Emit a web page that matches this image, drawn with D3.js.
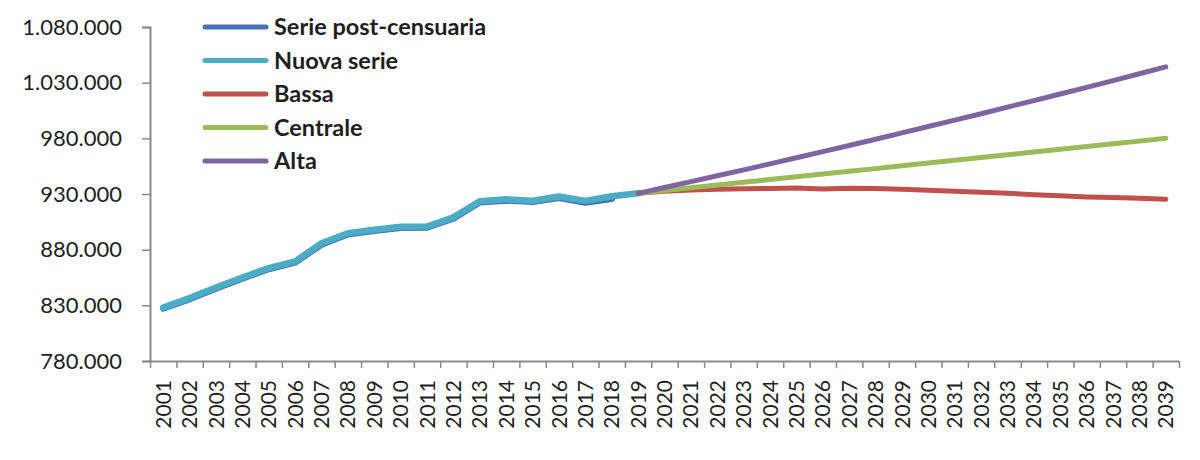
<!DOCTYPE html>
<html>
<head>
<meta charset="utf-8">
<script src="https://cdn.jsdelivr.net/npm/d3@7"></script>
<style>
  html, body { margin: 0; padding: 0; background: #ffffff; }
  svg { display: block; }
</style>
</head>
<body>
<svg id="chart" width="1200" height="460"></svg>
<script>
// ---- data ----
const years = d3.range(2001, 2040).map(String);
const yTicks = [780000, 830000, 880000, 930000, 980000, 1030000, 1080000];

const seriePostYears = years.slice(0, 18); // 2001-2018
const seriePost = [827.2, 835.6, 845.1, 854.1, 862.6, 868.6, 884.6, 893.9, 897.0, 899.6,
                   899.9, 908.0, 922.5, 924.2, 923.0, 926.6, 922.3, 925.8];

const nuovaYears = years.slice(0, 19); // 2001-2019
const nuovaSerie = [827.9, 836.5, 846.0, 855.0, 863.5, 869.5, 885.8, 894.8, 897.9, 900.5,
                    900.8, 909.0, 923.5, 925.2, 924.0, 927.8, 923.8, 928.0, 930.6];

const projYears = years.slice(18); // 2019-2039
const bassa = [930.6, 932.5, 933.5, 934.2, 934.8, 935.0, 935.5, 934.6, 935.2, 935.0,
               934.3, 933.4, 932.5, 931.6, 930.6, 929.4, 928.4, 927.4, 926.8, 926.2, 925.2];
const centrale = [930.6, 933.1, 935.6, 938.0, 940.5, 943.0, 945.4, 947.9, 950.4, 952.8,
                  955.3, 957.8, 960.3, 962.7, 965.2, 967.7, 970.1, 972.6, 975.1, 977.5, 980.0];
const alta = [930.6, 935.8, 941.1, 946.4, 951.7, 957.1, 962.6, 968.1, 973.6, 979.2,
              984.9, 990.6, 996.3, 1002.1, 1008.0, 1013.9, 1019.8, 1025.8, 1031.9, 1038.0, 1044.2];

const seriesNames = ["Serie post-censuaria", "Nuova serie", "Bassa", "Centrale", "Alta"];
const seriesColors = ["#4A70B5", "#4BACC6", "#C0504D", "#9BBB59", "#8064A2"];

// ---- chart ----
(function () {
const svg = d3.select("#chart");
const mLeft = 150, mRight = 1179, mTop = 27, mBottom = 361;

const x = d3.scaleBand().domain(years).range([mLeft, mRight]).padding(0);
const xEdge = d3.scaleLinear().domain([0, years.length]).range([mLeft, mRight]);
const y = d3.scaleLinear().domain([780000, 1080000]).range([mBottom, mTop]);

const it = d3.formatLocale({decimal: ",", thousands: ".", grouping: [3], currency: ["€", ""]});
const fmt = it.format(",d");

const axisColor = "#8a8a8a";
const textColor = "#1e1e1e";

// y axis
const gy = svg.append("g").attr("transform", `translate(${mLeft},0)`)
  .call(d3.axisLeft(y).tickValues(yTicks).tickFormat(fmt).tickSize(8).tickPadding(20));
gy.select(".domain").attr("stroke", axisColor).attr("stroke-width", 2);
gy.selectAll(".tick line").attr("stroke", axisColor).attr("stroke-width", 1.5);
gy.selectAll(".tick text").attr("fill", textColor)
  .style("font-family", "Lato, 'Open Sans', sans-serif").style("font-size", "22px");

// x axis: boundary ticks
const gxt = svg.append("g").attr("transform", `translate(0,${mBottom})`)
  .call(d3.axisBottom(xEdge).tickValues(d3.range(0, years.length + 1)).tickFormat("").tickSize(7).tickSizeOuter(0));
gxt.select(".domain").attr("stroke", axisColor).attr("stroke-width", 2);
gxt.selectAll(".tick line").attr("stroke", axisColor).attr("stroke-width", 1.5);

// x axis labels
const gx = svg.append("g").attr("transform", `translate(0,${mBottom})`)
  .call(d3.axisBottom(x).tickSize(0).tickPadding(0));
gx.select(".domain").remove();
gx.selectAll(".tick text")
  .attr("fill", textColor)
  .style("font-family", "Lato, 'Open Sans', sans-serif").style("font-size", "21px")
  .attr("transform", "rotate(-90)")
  .attr("text-anchor", "end")
  .attr("x", -19)
  .attr("y", 0)
  .attr("dy", "0.36em");

// lines
const line = (ys) => d3.line()
  .x((d, i) => x(ys[i]) + x.bandwidth() / 2)
  .y(d => y(d * 1000));

const drawLine = (ys, vals, color, w) => {
  svg.append("path").datum(vals)
    .attr("d", line(ys))
    .attr("fill", "none")
    .attr("stroke", color)
    .attr("stroke-width", w)
    .attr("stroke-linejoin", "round")
    .attr("stroke-linecap", "round");
};

drawLine(seriePostYears, seriePost, seriesColors[0], 6.5);
drawLine(nuovaYears, nuovaSerie, seriesColors[1], 6.5);
drawLine(projYears, bassa, seriesColors[2], 5);
drawLine(projYears, centrale, seriesColors[3], 5);
drawLine(projYears, alta, seriesColors[4], 5);

// legend
const legY = d3.scaleLinear().domain([0, 4]).range([27, 161]);
const leg = svg.append("g");
seriesNames.forEach((name, i) => {
  leg.append("line")
    .attr("x1", 205).attr("x2", 266)
    .attr("y1", legY(i)).attr("y2", legY(i))
    .attr("stroke", seriesColors[i]).attr("stroke-width", 5).attr("stroke-linecap", "round");
  leg.append("text")
    .attr("x", 274).attr("y", legY(i)).attr("dy", "0.36em")
    .attr("fill", textColor)
    .style("font-family", "Lato, 'Open Sans', sans-serif")
    .style("font-size", "23.5px").style("font-weight", "bold")
    .text(name);
});
})();
</script>
</body>
</html>
